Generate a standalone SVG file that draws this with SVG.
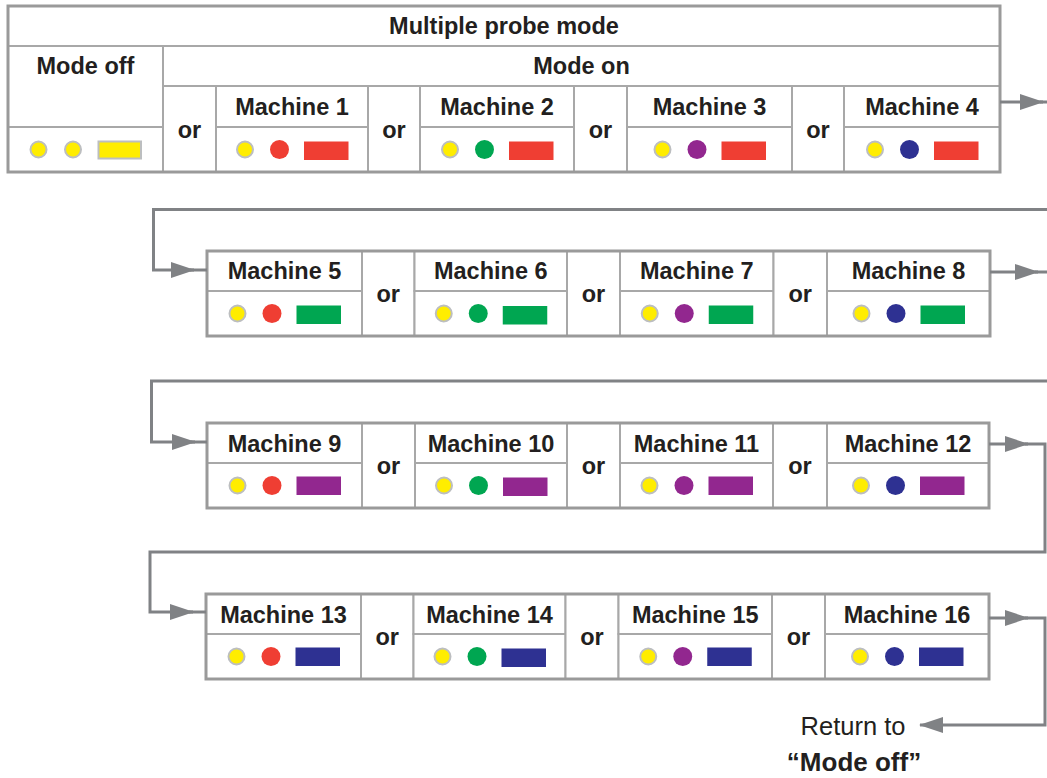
<svg xmlns="http://www.w3.org/2000/svg" width="1047" height="778" viewBox="0 0 1047 778">
<defs>
<style>
.cell{fill:#fff;stroke:#a8a8a8;stroke-width:2}
.frame{fill:none;stroke:#9a9a9a;stroke-width:3}
.t{font-family:"Liberation Sans",Arial,Helvetica,sans-serif;font-weight:bold;font-size:23.5px;fill:#231f20;text-anchor:middle}
.n{font-family:"Liberation Sans",Arial,Helvetica,sans-serif;font-size:25.5px;fill:#231f20;text-anchor:middle}
.b{font-family:"Liberation Sans",Arial,Helvetica,sans-serif;font-weight:bold;font-size:26px;fill:#231f20;text-anchor:middle}
.y{fill:#ffed00;stroke:#bcbec0;stroke-width:2}
.r{fill:#ef3e33}
.g{fill:#00a651}
.p{fill:#92278f}
.u{fill:#2e3192}
.conn{fill:none;stroke:#808285;stroke-width:3}
</style>
<marker id="ah" markerUnits="userSpaceOnUse" viewBox="0 0 24 16" markerWidth="24" markerHeight="16" refX="23" refY="8" orient="auto">
<path d="M0,0 L24,8 L0,16 z" fill="#808285"/>
</marker>
</defs>
<rect width="1047" height="778" fill="#fff"/>

<!-- Row 1 table -->
<g id="header">
<rect class="cell" x="8" y="6" width="992" height="40"/>
<text class="t" x="504" y="34">Multiple probe mode</text>
</g>
<g id="mode-off">
<rect class="cell" x="8" y="46" width="155" height="81"/>
<rect class="cell" x="8" y="127" width="155" height="45"/>
<text class="t" x="85.5" y="74">Mode off</text>
<circle class="y" cx="38.5" cy="149.5" r="8"/>
<circle class="y" cx="73" cy="149.5" r="8"/>
<rect class="y" x="98.5" y="141.5" width="42.5" height="17"/>
</g>
<g id="mode-on">
<rect class="cell" x="163" y="46" width="837" height="40"/>
<text class="t" x="581.5" y="74">Mode on</text>
</g>
<g id="or-1a"><rect class="cell" x="163" y="86" width="53" height="86"/><text class="t" x="189.5" y="137.5">or</text></g>
<g id="machine-1"><rect class="cell" x="216" y="86" width="152" height="41"/><rect class="cell" x="216" y="127" width="152" height="45"/><text class="t" x="292" y="115">Machine 1</text><circle class="y" cx="245" cy="149.5" r="8"/><circle class="r" cx="279.5" cy="149.5" r="9.5"/><rect class="r" x="304" y="141.5" width="44.5" height="18.5"/></g>
<g id="or-1b"><rect class="cell" x="368" y="86" width="52" height="86"/><text class="t" x="394" y="137.5">or</text></g>
<g id="machine-2"><rect class="cell" x="420" y="86" width="154" height="41"/><rect class="cell" x="420" y="127" width="154" height="45"/><text class="t" x="497" y="115">Machine 2</text><circle class="y" cx="450" cy="149.5" r="8"/><circle class="g" cx="484.5" cy="149.5" r="9.5"/><rect class="r" x="509" y="141.5" width="44.5" height="18.5"/></g>
<g id="or-1c"><rect class="cell" x="574" y="86" width="53" height="86"/><text class="t" x="600.5" y="137.5">or</text></g>
<g id="machine-3"><rect class="cell" x="627" y="86" width="165" height="41"/><rect class="cell" x="627" y="127" width="165" height="45"/><text class="t" x="709.5" y="115">Machine 3</text><circle class="y" cx="662.5" cy="149.5" r="8"/><circle class="p" cx="697" cy="149.5" r="9.5"/><rect class="r" x="721.5" y="141.5" width="44.5" height="18.5"/></g>
<g id="or-1d"><rect class="cell" x="792" y="86" width="52" height="86"/><text class="t" x="818" y="137.5">or</text></g>
<g id="machine-4"><rect class="cell" x="844" y="86" width="156" height="41"/><rect class="cell" x="844" y="127" width="156" height="45"/><text class="t" x="922" y="115">Machine 4</text><circle class="y" cx="875" cy="149.5" r="8"/><circle class="u" cx="909.5" cy="149.5" r="9.5"/><rect class="r" x="934" y="141.5" width="44.5" height="18.5"/></g>
<rect class="frame" x="8" y="6" width="992" height="166"/>

<!-- Row 2 -->
<g id="machine-5"><rect class="cell" x="207" y="251" width="155" height="40"/><rect class="cell" x="207" y="291" width="155" height="45"/><text class="t" x="284.5" y="279.3">Machine 5</text><circle class="y" cx="237.5" cy="313.5" r="8"/><circle class="r" cx="272" cy="313.5" r="9.5"/><rect class="g" x="296.5" y="305.5" width="44.5" height="18.5"/></g>
<g id="or-2a"><rect class="cell" x="362" y="251" width="52.5" height="85"/><text class="t" x="388.25" y="302">or</text></g>
<g id="machine-6"><rect class="cell" x="414.5" y="251" width="152.5" height="40"/><rect class="cell" x="414.5" y="291" width="152.5" height="45"/><text class="t" x="490.75" y="279.3">Machine 6</text><circle class="y" cx="443.75" cy="313.5" r="8"/><circle class="g" cx="478.25" cy="313.5" r="9.5"/><rect class="g" x="502.75" y="306" width="44.5" height="18.5"/></g>
<g id="or-2b"><rect class="cell" x="567" y="251" width="53" height="85"/><text class="t" x="593.5" y="302">or</text></g>
<g id="machine-7"><rect class="cell" x="620" y="251" width="153.5" height="40"/><rect class="cell" x="620" y="291" width="153.5" height="45"/><text class="t" x="696.75" y="279.3">Machine 7</text><circle class="y" cx="649.75" cy="313.5" r="8"/><circle class="p" cx="684.25" cy="313.5" r="9.5"/><rect class="g" x="708.75" y="305.5" width="44.5" height="18.5"/></g>
<g id="or-2c"><rect class="cell" x="773.5" y="251" width="53.5" height="85"/><text class="t" x="800.25" y="302">or</text></g>
<g id="machine-8"><rect class="cell" x="827" y="251" width="163" height="40"/><rect class="cell" x="827" y="291" width="163" height="45"/><text class="t" x="908.5" y="279.3">Machine 8</text><circle class="y" cx="861.5" cy="313.5" r="8"/><circle class="u" cx="896" cy="313.5" r="9.5"/><rect class="g" x="920.5" y="305.5" width="44.5" height="18.5"/></g>
<rect class="frame" x="207" y="251" width="783" height="85"/>

<!-- Row 3 -->
<g id="machine-9"><rect class="cell" x="207" y="423" width="155" height="40"/><rect class="cell" x="207" y="463" width="155" height="45"/><text class="t" x="284.5" y="451.5">Machine 9</text><circle class="y" cx="237.5" cy="485.5" r="8"/><circle class="r" cx="272" cy="485.5" r="9.5"/><rect class="p" x="296.5" y="476.5" width="44.5" height="18.5"/></g>
<g id="or-3a"><rect class="cell" x="362" y="423" width="53" height="85"/><text class="t" x="388.5" y="474">or</text></g>
<g id="machine-10"><rect class="cell" x="415" y="423" width="152" height="40"/><rect class="cell" x="415" y="463" width="152" height="45"/><text class="t" x="491" y="451.5">Machine 10</text><circle class="y" cx="444" cy="485.5" r="8"/><circle class="g" cx="478.5" cy="485.5" r="9.5"/><rect class="p" x="503" y="477.5" width="44.5" height="18.5"/></g>
<g id="or-3b"><rect class="cell" x="567" y="423" width="53" height="85"/><text class="t" x="593.5" y="474">or</text></g>
<g id="machine-11"><rect class="cell" x="620" y="423" width="153" height="40"/><rect class="cell" x="620" y="463" width="153" height="45"/><text class="t" x="696.5" y="451.5">Machine 11</text><circle class="y" cx="649.5" cy="485.5" r="8"/><circle class="p" cx="684" cy="485.5" r="9.5"/><rect class="p" x="708.5" y="476.5" width="44.5" height="18.5"/></g>
<g id="or-3c"><rect class="cell" x="773" y="423" width="54" height="85"/><text class="t" x="800" y="474">or</text></g>
<g id="machine-12"><rect class="cell" x="827" y="423" width="162" height="40"/><rect class="cell" x="827" y="463" width="162" height="45"/><text class="t" x="908" y="451.5">Machine 12</text><circle class="y" cx="861" cy="485.5" r="8"/><circle class="u" cx="895.5" cy="485.5" r="9.5"/><rect class="p" x="920" y="476.5" width="44.5" height="18.5"/></g>
<rect class="frame" x="207" y="423" width="782" height="85"/>

<!-- Row 4 -->
<g id="machine-13"><rect class="cell" x="206" y="594" width="155" height="40"/><rect class="cell" x="206" y="634" width="155" height="45"/><text class="t" x="283.5" y="622.5">Machine 13</text><circle class="y" cx="236.5" cy="656.5" r="8"/><circle class="r" cx="271" cy="656.5" r="9.5"/><rect class="u" x="295.5" y="647.5" width="44.5" height="18.5"/></g>
<g id="or-4a"><rect class="cell" x="361" y="594" width="52.5" height="85"/><text class="t" x="387.25" y="645">or</text></g>
<g id="machine-14"><rect class="cell" x="413.5" y="594" width="152" height="40"/><rect class="cell" x="413.5" y="634" width="152" height="45"/><text class="t" x="489.5" y="622.5">Machine 14</text><circle class="y" cx="442.5" cy="656.5" r="8"/><circle class="g" cx="477" cy="656.5" r="9.5"/><rect class="u" x="501.5" y="648.5" width="44.5" height="18.5"/></g>
<g id="or-4b"><rect class="cell" x="565.5" y="594" width="53" height="85"/><text class="t" x="592" y="645">or</text></g>
<g id="machine-15"><rect class="cell" x="618.5" y="594" width="153.5" height="40"/><rect class="cell" x="618.5" y="634" width="153.5" height="45"/><text class="t" x="695.25" y="622.5">Machine 15</text><circle class="y" cx="648.25" cy="656.5" r="8"/><circle class="p" cx="682.75" cy="656.5" r="9.5"/><rect class="u" x="707.25" y="647.5" width="44.5" height="18.5"/></g>
<g id="or-4c"><rect class="cell" x="772" y="594" width="53" height="85"/><text class="t" x="798.5" y="645">or</text></g>
<g id="machine-16"><rect class="cell" x="825" y="594" width="164" height="40"/><rect class="cell" x="825" y="634" width="164" height="45"/><text class="t" x="907" y="622.5">Machine 16</text><circle class="y" cx="860" cy="656.5" r="8"/><circle class="u" cx="894.5" cy="656.5" r="9.5"/><rect class="u" x="919" y="647.5" width="44.5" height="18.5"/></g>
<rect class="frame" x="206" y="594" width="783" height="85"/>

<!-- Connectors -->
<g id="connectors">
<path class="conn" d="M1000,102 H1043" marker-end="url(#ah)"/>
<path class="conn" d="M1040,102 H1060 V209.5 H153.5 V270 H194" marker-end="url(#ah)"/>
<path class="conn" d="M190,270 H207"/>
<path class="conn" d="M990,272 H1038" marker-end="url(#ah)"/>
<path class="conn" d="M1035,272 H1060 V381 H151.5 V442 H195" marker-end="url(#ah)"/>
<path class="conn" d="M191,442 H207"/>
<path class="conn" d="M989,444 H1028" marker-end="url(#ah)"/>
<path class="conn" d="M1025,444 H1045 V552 H150 V612 H193" marker-end="url(#ah)"/>
<path class="conn" d="M189,612 H206"/>
<path class="conn" d="M989,618 H1028" marker-end="url(#ah)"/>
<path class="conn" d="M1025,618 H1045 V725 H920" marker-end="url(#ah)"/>
</g>

<g id="return-label">
<text class="n" x="853" y="735">Return to</text>
<text class="b" x="854" y="771">“Mode off”</text>
</g>
</svg>
